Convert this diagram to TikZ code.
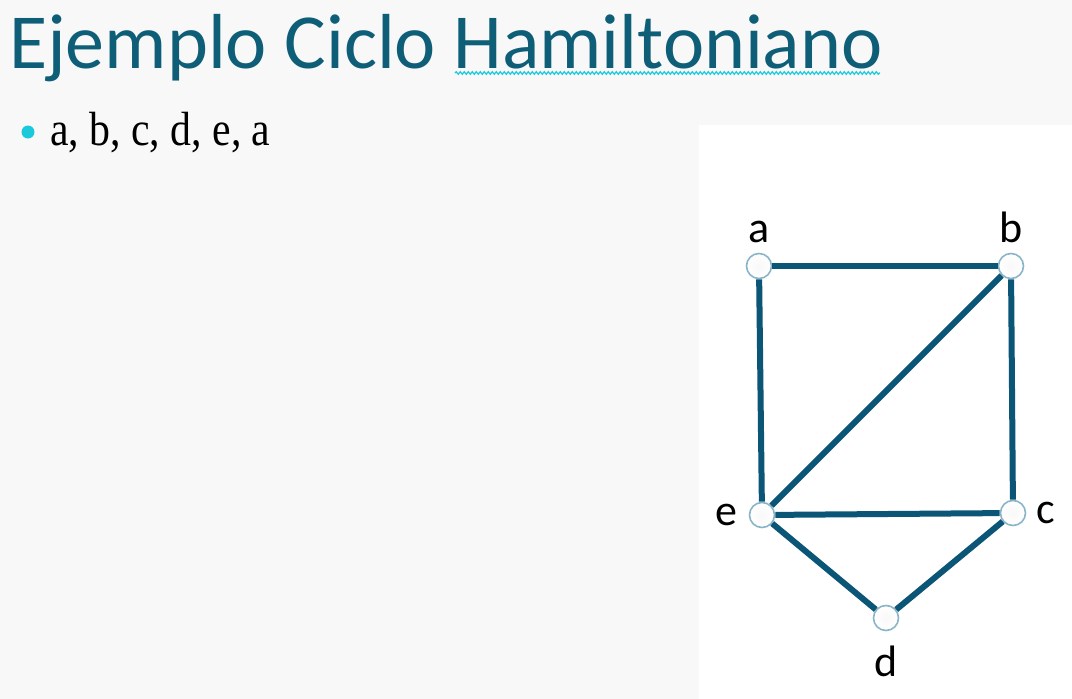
\documentclass[tikz,border=0pt]{standalone}
\usepackage{fontspec}
\setmainfont{Carlito}
\newfontfamily\bodyfont{Liberation Serif}
\usepackage{xcolor}
\usepackage{tikz}
\usetikzlibrary{positioning,decorations.pathmorphing}
\definecolor{Title}{HTML}{0E5E78}
\definecolor{Edge}{HTML}{0B5577}
\definecolor{Ring}{HTML}{8AB4C8}
\definecolor{Bullet}{HTML}{1CC9DA}
\definecolor{Paper}{HTML}{F8F8F8}

\begin{document}
\begin{tikzpicture}[
      x=1pt, y=-1pt,
      vertex/.style={circle, draw=Ring, line width=1.6pt, inner color=Paper, outer color=white, minimum size=25pt, inner sep=0pt},
      lbl/.style={font=\fontsize{44}{44}\selectfont, text=black, inner sep=0pt},
      edge/.style={draw=Edge, line width=6pt}
    ]
    % slide background and picture area
    \fill[Paper] (0,0) rectangle (1072,699);
    \fill[white] (699,125) rectangle (1072,699);
    \useasboundingbox (0,0) rectangle (1072,699);

    % title and bullet
    \node[anchor=base west, inner sep=0pt, text=Title, font=\fontsize{78}{78}\selectfont] (title) at (9,68) {Ejemplo Ciclo Hamiltoniano};
    \coordinate (w1) at (455,73);
    \coordinate (w2) at (880,73);
    \draw[Bullet, line width=1.2pt, decorate, decoration={snake, amplitude=1.3pt, segment length=4pt}] (w1) -- (w2);
    \fill[Bullet] (28,132) circle (6.5);
    \node[anchor=base west, inner sep=0pt, font=\bodyfont\fontsize{48}{48}\selectfont] (path) at (50,145) {\scalebox{0.87}[1]{a, b, c, d, e, a}};

    % graph
    \node[vertex] (a) at (759,266) {};
    \node[vertex] (b) at (1011,266) {};
    \node[vertex] (c) at (1013,513) {};
    \node[vertex] (e) at (762,515) {};
    \node[vertex] (d) at (886,618) {};

    \node[lbl, above=10pt of a] (la) {a};
    \node[lbl, above=10pt of b] (lb) {b};
    \node[lbl, right=10pt of c] (lc) {c};
    \node[lbl, below=14pt of d] (ld) {d};
    \node[lbl, left=11pt of e] (le) {e};

    \draw[edge] (a) -- (b);
    \draw[edge] (a) -- (e);
    \draw[edge] (b) -- (c);
    \draw[edge] (b) -- (e);
    \draw[edge] (e) -- (c);
    \draw[edge] (e) -- (d);
    \draw[edge] (d) -- (c);
  \end{tikzpicture}
\end{document}
